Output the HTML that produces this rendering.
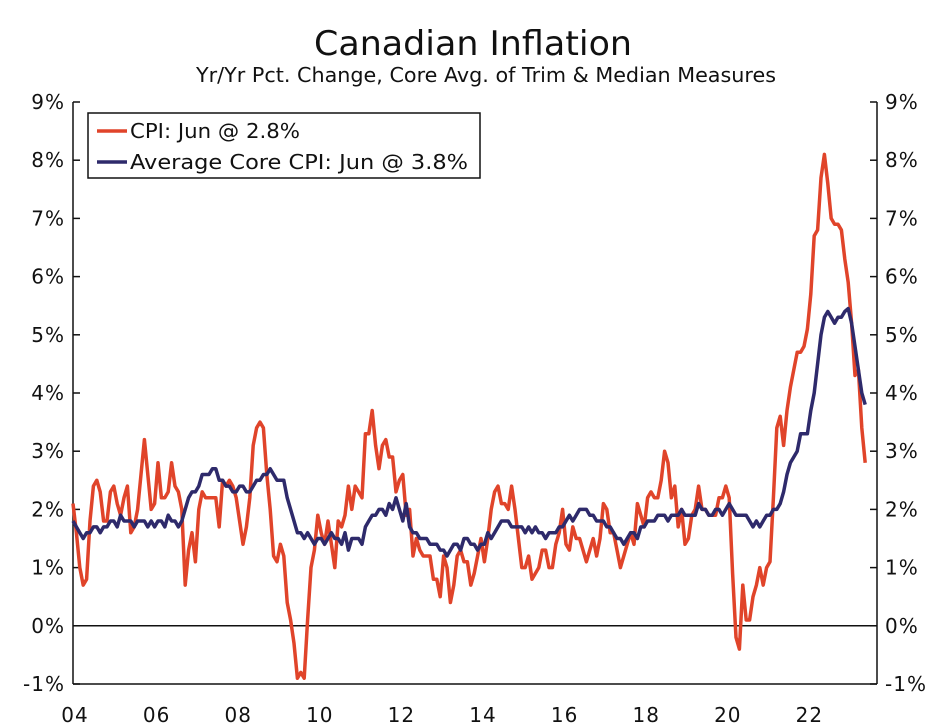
<!DOCTYPE html>
<html><head><meta charset="utf-8"><style>
body{margin:0;background:#fff;}
svg{display:block;font-family:"DejaVu Sans","Liberation Sans",sans-serif;}
</style></head><body>
<svg id="chart" width="946" height="726">
<text x="473" y="55" text-anchor="middle" font-size="34" fill="#111" textLength="318" lengthAdjust="spacingAndGlyphs">Canadian Inflation</text>
<text x="486" y="82" text-anchor="middle" font-size="20" fill="#111" textLength="580" lengthAdjust="spacingAndGlyphs">Yr/Yr Pct. Change, Core Avg. of Trim &amp; Median Measures</text>
<g id="axes"></g>
<g id="series"></g>
<g>
<rect x="88" y="113" width="392" height="65" fill="#fff" stroke="#111" stroke-width="1.5"/>
<line x1="97" y1="131" x2="127" y2="131" stroke="#e0442a" stroke-width="3.5"/>
<text x="130" y="138" font-size="20" fill="#111" textLength="170" lengthAdjust="spacingAndGlyphs">CPI: Jun @ 2.8%</text>
<line x1="97" y1="162" x2="127" y2="162" stroke="#2e2a6b" stroke-width="3.5"/>
<text x="130" y="169" font-size="20" fill="#111" textLength="338" lengthAdjust="spacingAndGlyphs">Average Core CPI: Jun @ 3.8%</text>
</g>
</svg>
<script>
const yTicks=[-1,0,1,2,3,4,5,6,7,8,9];
const xTickLabels=["04","06","08","10","12","14","16","18","20","22"];
const startYear=2004;
const cpi=[
2.1,1.6,1.0,0.7,0.8,1.8,2.4,2.5,2.3,1.8,1.8,2.3,
2.4,2.1,1.9,2.2,2.4,1.6,1.7,2.0,2.6,3.2,2.6,2.0,
2.1,2.8,2.2,2.2,2.3,2.8,2.4,2.3,2.0,0.7,1.3,1.6,
1.1,2.0,2.3,2.2,2.2,2.2,2.2,1.7,2.5,2.4,2.5,2.4,
2.2,1.8,1.4,1.7,2.2,3.1,3.4,3.5,3.4,2.6,2.0,1.2,
1.1,1.4,1.2,0.4,0.1,-0.3,-0.9,-0.8,-0.9,0.1,1.0,1.3,
1.9,1.6,1.4,1.8,1.4,1.0,1.8,1.7,1.9,2.4,2.0,2.4,
2.3,2.2,3.3,3.3,3.7,3.1,2.7,3.1,3.2,2.9,2.9,2.3,
2.5,2.6,1.9,2.0,1.2,1.5,1.3,1.2,1.2,1.2,0.8,0.8,
0.5,1.2,1.0,0.4,0.7,1.2,1.3,1.1,1.1,0.7,0.9,1.2,
1.5,1.1,1.5,2.0,2.3,2.4,2.1,2.1,2.0,2.4,2.0,1.5,
1.0,1.0,1.2,0.8,0.9,1.0,1.3,1.3,1.0,1.0,1.4,1.6,
2.0,1.4,1.3,1.7,1.5,1.5,1.3,1.1,1.3,1.5,1.2,1.5,
2.1,2.0,1.6,1.6,1.3,1.0,1.2,1.4,1.6,1.4,2.1,1.9,
1.7,2.2,2.3,2.2,2.2,2.5,3.0,2.8,2.2,2.4,1.7,2.0,
1.4,1.5,1.9,2.0,2.4,2.0,2.0,1.9,1.9,1.9,2.2,2.2,
2.4,2.2,0.9,-0.2,-0.4,0.7,0.1,0.1,0.5,0.7,1.0,0.7,
1.0,1.1,2.2,3.4,3.6,3.1,3.7,4.1,4.4,4.7,4.7,4.8,
5.1,5.7,6.7,6.8,7.7,8.1,7.6,7.0,6.9,6.9,6.8,6.3,
5.9,5.2,4.3,4.4,3.4,2.8];
const core=[
1.8,1.7,1.6,1.5,1.6,1.6,1.7,1.7,1.6,1.7,1.7,1.8,
1.8,1.7,1.9,1.8,1.8,1.8,1.7,1.8,1.8,1.8,1.7,1.8,
1.7,1.8,1.8,1.7,1.9,1.8,1.8,1.7,1.8,2.0,2.2,2.3,
2.3,2.4,2.6,2.6,2.6,2.7,2.7,2.5,2.5,2.4,2.4,2.3,
2.3,2.4,2.4,2.3,2.3,2.4,2.5,2.5,2.6,2.6,2.7,2.6,
2.5,2.5,2.5,2.2,2.0,1.8,1.6,1.6,1.5,1.6,1.5,1.4,
1.5,1.5,1.4,1.5,1.6,1.5,1.5,1.4,1.6,1.3,1.5,1.5,
1.5,1.4,1.7,1.8,1.9,1.9,2.0,2.0,1.9,2.1,2.0,2.2,
2.0,1.8,2.1,1.7,1.6,1.6,1.5,1.5,1.5,1.4,1.4,1.4,
1.3,1.3,1.2,1.3,1.4,1.4,1.3,1.5,1.5,1.4,1.4,1.3,
1.4,1.4,1.6,1.5,1.6,1.7,1.8,1.8,1.8,1.7,1.7,1.7,
1.7,1.6,1.7,1.6,1.7,1.6,1.6,1.5,1.6,1.6,1.6,1.7,
1.7,1.8,1.9,1.8,1.9,2.0,2.0,2.0,1.9,1.9,1.8,1.8,
1.8,1.7,1.7,1.6,1.5,1.5,1.4,1.5,1.6,1.6,1.5,1.7,
1.7,1.8,1.8,1.8,1.9,1.9,1.9,1.8,1.9,1.9,1.9,2.0,
1.9,1.9,1.9,1.9,2.1,2.0,2.0,1.9,1.9,2.0,2.0,1.9,
2.0,2.1,2.0,1.9,1.9,1.9,1.9,1.8,1.7,1.8,1.7,1.8,
1.9,1.9,2.0,2.0,2.1,2.3,2.6,2.8,2.9,3.0,3.3,3.3,
3.3,3.7,4.0,4.5,5.0,5.3,5.4,5.3,5.2,5.3,5.3,5.4,
5.45,5.2,4.8,4.4,4.0,3.8];

const L=73,R=877,T=102,B=684,ymin=-1,ymax=9;
const ys=v=>B-(v-ymin)/(ymax-ymin)*(B-T);
const xs=m=>L+m*3.4;
const NS="http://www.w3.org/2000/svg";
function mk(tag,attrs,parent){const e=document.createElementNS(NS,tag);for(const k in attrs)e.setAttribute(k,attrs[k]);parent.appendChild(e);return e;}
const axes=document.getElementById('axes');
yTicks.forEach(v=>{
  const y=ys(v);
  const t1=mk('line',{x1:L,y1:y,x2:L+7,y2:y,stroke:'#111','stroke-width':1.5},axes);
  
  
  const t2=mk('line',{x1:R-7,y1:y,x2:R,y2:y,stroke:'#111','stroke-width':1.5},axes);
  
  
  const a=mk('text',{x:L-8,y:y+7,'text-anchor':'end','font-size':20,'letter-spacing':1,fill:'#111'},axes);
  a.textContent=v+'%';
  
  
  const b=mk('text',{x:R+8,y:y+7,'text-anchor':'start','font-size':20,'letter-spacing':1,fill:'#111'},axes);
  b.textContent=v+'%';
  
  
});
const zero=mk('line',{x1:L,y1:ys(0),x2:R,y2:ys(0),stroke:'#111','stroke-width':1.5},axes);


const la=mk('line',{x1:L,y1:T,x2:L,y2:B,stroke:'#111','stroke-width':1.5},axes);


const ra=mk('line',{x1:R,y1:T,x2:R,y2:B,stroke:'#111','stroke-width':1.5},axes);


const xa=mk('line',{x1:L,y1:B,x2:R,y2:B,stroke:'#111','stroke-width':1.5},axes);


xTickLabels.forEach((lab,i)=>{
  const t=mk('text',{x:xs(i*24)+2,y:722,'text-anchor':'middle','font-size':20,'letter-spacing':1,fill:'#111'},axes);
  t.textContent=lab;
  
  
});
const ser=document.getElementById('series');
function line(arr,color,name){
  const d=arr.map((v,i)=>(i?'L':'M')+xs(i).toFixed(1)+','+ys(v).toFixed(1)).join('');
  const p=mk('path',{d:d,fill:'none',stroke:color,'stroke-width':3.5,'stroke-linejoin':'round'},ser);
  
  
}
line(cpi,'#e0442a','cpi-line');
line(core,'#2e2a6b','core-cpi-line');
</script>
</body></html>
